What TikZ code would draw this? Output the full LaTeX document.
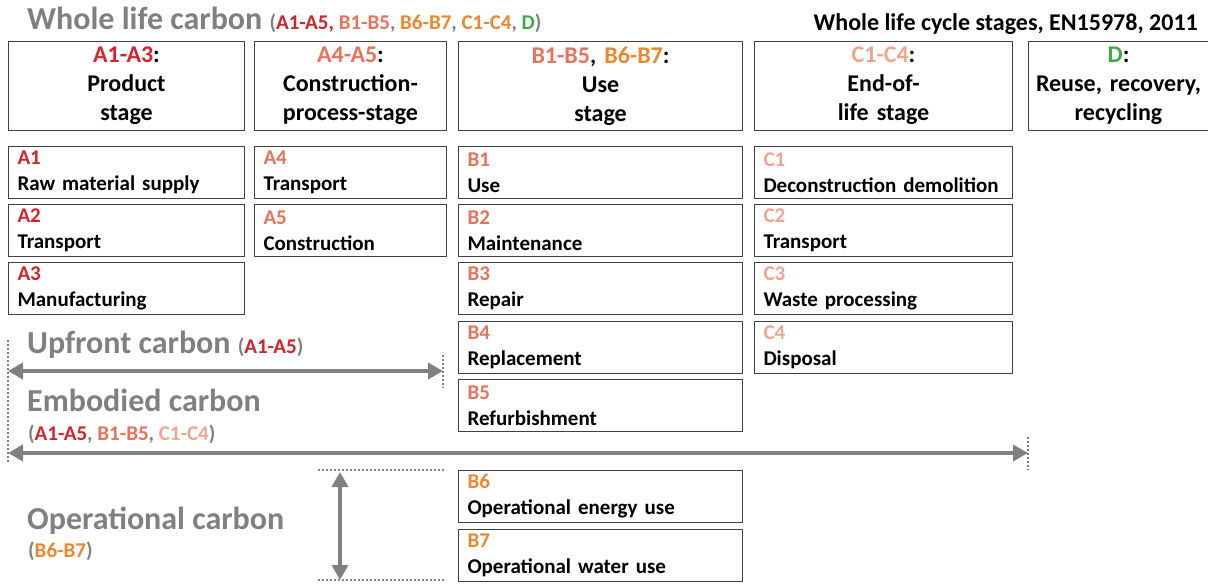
\documentclass[tikz,border=0pt]{standalone}
\usepackage{fontspec}
\setmainfont{Carlito}
\usetikzlibrary{arrows.meta}

\definecolor{acol}{HTML}{D7222B}
\definecolor{bcol}{HTML}{E8735C}
\definecolor{bbcol}{HTML}{EE8630}
\definecolor{ccol}{HTML}{F0A58C}
\definecolor{dcol}{HTML}{3DAA4A}
\definecolor{greytxt}{HTML}{808080}
\definecolor{boxline}{HTML}{404040}

\tikzset{
  stagebox/.style={draw=boxline, line width=1pt, anchor=north west, minimum height=89pt,
    inner sep=0pt, align=center, font=\bfseries\fontsize{24}{29}\selectfont},
  modbox/.style={draw=boxline, line width=1pt, anchor=north west, minimum height=52pt,
    inner xsep=9pt, inner ysep=0pt, align=left, font=\bfseries\fontsize{21}{26}\selectfont},
  bigarrow/.style={draw=greytxt, line width=4.5pt,
    {Triangle[length=15pt,width=16pt]}-{Triangle[length=15pt,width=16pt]}},
  guide/.style={draw=greytxt, line width=2pt, dash pattern=on 2pt off 2pt},
  bigtitle/.style={anchor=base west, text=greytxt, inner sep=0pt,
    font=\bfseries\fontsize{32}{36}\selectfont},
  subtitle/.style={anchor=base west, text=greytxt, inner sep=0pt,
    font=\bfseries\fontsize{21}{24}\selectfont}
}
\newcommand{\smallpart}{\fontsize{21}{24}\selectfont}

\begin{document}
\begin{tikzpicture}[x=1pt,y=-1pt]
\useasboundingbox (0,0) rectangle (1208,585);

% titles
\node[bigtitle] (wlc) at (27,30) {Whole life carbon {\smallpart(\textcolor{acol}{A1-A5,} \textcolor{bcol}{B1-B5}, \textcolor{bbcol}{B6-B7}, \textcolor{bbcol}{C1-C4}, \textcolor{dcol}{D})}};
\node[anchor=base east, inner sep=0pt, font=\bfseries\fontsize{24}{28}\selectfont] (norm) at (1198,31) {Whole life cycle stages, EN15978, 2011};

% stage boxes
\node[stagebox, text width=236pt] (stA) at (8,41) {\textcolor{acol}{A1-A3}:\\Product\\stage};
\node[stagebox, text width=192pt] (stAA) at (254,41) {\textcolor{bcol}{A4-A5}:\\Construction-\\process-stage};
\node[stagebox, text width=284pt] (stB) at (458,41) {\textcolor{bcol}{B1-B5}, \textcolor{bbcol}{B6-B7}:\\Use\\stage};
\node[stagebox, text width=258pt] (stC) at (754,41) {\textcolor{ccol}{C1-C4}:\\End-of-\\life stage};
\node[stagebox, text width=180pt] (stD) at (1028,41) {\textcolor{dcol}{D}:\\Reuse, recovery,\\recycling};

% modules
\node[modbox, text width=218pt] (a1) at (8,146) {\textcolor{acol}{A1}\\Raw material supply};
\node[modbox, text width=218pt] (a2) at (8,204) {\textcolor{acol}{A2}\\Transport};
\node[modbox, text width=218pt] (a3) at (8,262) {\textcolor{acol}{A3}\\Manufacturing};
\node[modbox, text width=174pt] (a4) at (254,146) {\textcolor{bcol}{A4}\\Transport};
\node[modbox, text width=174pt] (a5) at (254,204) {\textcolor{bcol}{A5}\\Construction};
\node[modbox, text width=266pt] (b1) at (458,146) {\textcolor{bcol}{B1}\\Use};
\node[modbox, text width=266pt] (b2) at (458,204) {\textcolor{bcol}{B2}\\Maintenance};
\node[modbox, text width=266pt] (b3) at (458,262) {\textcolor{bcol}{B3}\\Repair};
\node[modbox, text width=266pt] (b4) at (458,321) {\textcolor{bcol}{B4}\\Replacement};
\node[modbox, text width=266pt] (b5) at (458,379) {\textcolor{bcol}{B5}\\Refurbishment};
\node[modbox, text width=266pt] (b6) at (458,470) {\textcolor{bbcol}{B6}\\Operational energy use};
\node[modbox, text width=266pt] (b7) at (458,529) {\textcolor{bbcol}{B7}\\Operational water use};
\node[modbox, text width=240pt] (c1) at (754,146) {\textcolor{ccol}{C1}\\Deconstruction demolition};
\node[modbox, text width=240pt] (c2) at (754,204) {\textcolor{ccol}{C2}\\Transport};
\node[modbox, text width=240pt] (c3) at (754,262) {\textcolor{ccol}{C3}\\Waste processing};
\node[modbox, text width=240pt] (c4) at (754,321) {\textcolor{ccol}{C4}\\Disposal};

% carbon scopes
\node[bigtitle] (upf) at (27,354) {Upfront carbon {\smallpart(\textcolor{acol}{A1-A5})}};
\node[bigtitle] (emb) at (27,411) {Embodied carbon};
\node[subtitle] (embsub) at (28,440) {(\textcolor{acol}{A1-A5}, \textcolor{bcol}{B1-B5}, \textcolor{ccol}{C1-C4})};
\node[bigtitle] (ope) at (27,529) {Operational carbon};
\node[subtitle] (opesub) at (28,557) {(\textcolor{bbcol}{B6-B7})};

\coordinate (upL) at (8,371);
\coordinate (upR) at (443,371);
\coordinate (emL) at (8,453);
\coordinate (emR) at (1028,453);
\coordinate (opT) at (340,472);
\coordinate (opB) at (340,580);

\draw[guide] (8,340) -- (8,462);
\draw[guide] (443,355) -- (443,388);
\draw[guide] (1028,437) -- (1028,470);
\draw[guide] (318,470) -- (446,470);
\draw[guide] (318,580) -- (446,580);

\draw[bigarrow] (upL) -- (upR);
\draw[bigarrow] (emL) -- (emR);
\draw[bigarrow] (opT) -- (opB);
\end{tikzpicture}
\end{document}
